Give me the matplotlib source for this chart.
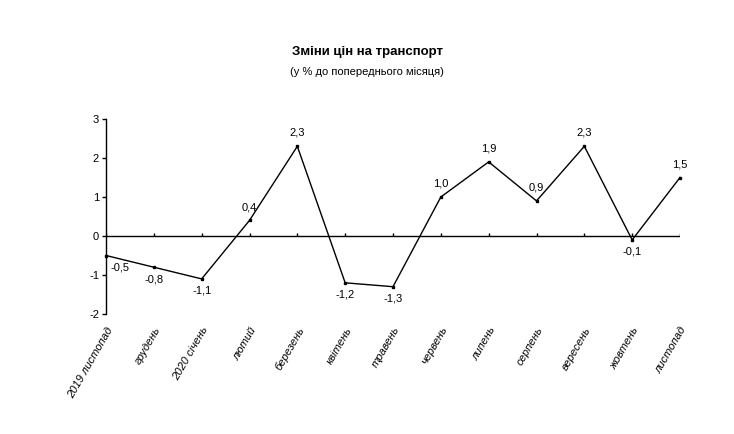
import numpy as np
import matplotlib.pyplot as plt

plt.rcParams['font.family'] = ['Liberation Sans', 'DejaVu Sans']

months = ["2019 листопад", "грудень", "2020 січень", "лютий", "березень",
          "квітень", "травень", "червень", "липень", "серпень",
          "вересень", "жовтень", "листопад"]
values = [-0.5, -0.8, -1.1, 0.4, 2.3, -1.2, -1.3, 1.0, 1.9, 0.9, 2.3, -0.1, 1.5]

fig = plt.figure(figsize=(7.34, 4.34), dpi=100)
ax = fig.add_axes([106/734, 1-314/434, (680-106)/734, (314-119)/434])

x = np.arange(len(values))
ax.axhline(0, color='black', lw=1)
# small upward ticks on the zero line
ax.vlines(x, 0, 0.08, color='black', lw=1)
ax.plot(x, values, color='black', lw=1, marker='s', ms=2, clip_on=False)

for xi, v in zip(x, values):
    txt = ("%.1f" % v).replace('.', ',')
    if v >= 0:
        ax.annotate(txt, (xi, v), xytext=(0, 6), textcoords='offset points',
                    ha='center', va='bottom', fontsize=8)
    else:
        dx = 10 if xi == 0 else 0
        ax.annotate(txt, (xi, v), xytext=(dx, -5), textcoords='offset points',
                    ha='center', va='top', fontsize=8)

ax.set_xlim(0, len(values) - 1)
ax.set_ylim(-2, 3)
ax.set_yticks([-2, -1, 0, 1, 2, 3])
ax.set_yticklabels(['-2', '-1', '0', '1', '2', '3'], fontsize=8)
ax.set_xticks(x)
ax.set_xticklabels(months, rotation=60, ha='right', rotation_mode='anchor',
                   fontsize=8, style='italic')
ax.tick_params(axis='x', length=0, pad=8)
ax.tick_params(axis='y', length=3, direction='out', width=1, pad=2)
for s in ['top', 'right', 'bottom']:
    ax.spines[s].set_visible(False)
ax.spines['left'].set_linewidth(1)

fig.text(0.5, 1-52/434, "Зміни цін на транспорт", ha='center', va='center',
         fontsize=9.5, fontweight='bold')
fig.text(0.5, 1-72/434, "(у % до попереднього місяця)", ha='center', va='center',
         fontsize=8)

fig.savefig('out.png', dpi=100)
